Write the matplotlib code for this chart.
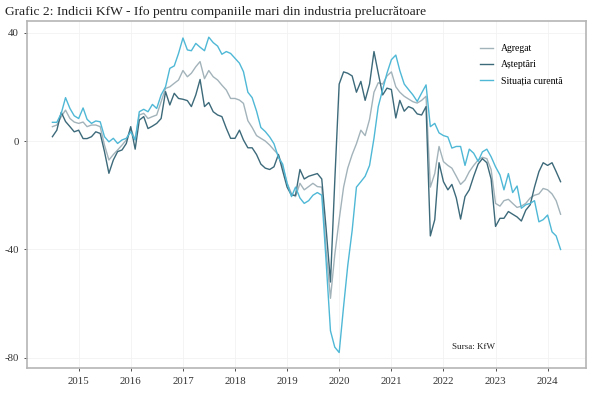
import matplotlib
matplotlib.use("Agg")
import matplotlib.pyplot as plt
import matplotlib.dates as mdates
import pandas as pd

# monthly values, Jul 2014 - Apr 2024
dates = pd.date_range("2014-07-01", periods=118, freq="MS")

agregat = [
    5.3, 5.9, 9, 11.4, 8.3, 7, 6.5, 7, 5.3, 5.9, 5.9, 5.3,
    -1.5, -7, -5, -3.3, -1.5, 0.4, 4.6, 0.4, 9.6, 10.2, 8.3, 9,
    9.6, 14.5, 19.4, 20, 21.3, 22.5, 26, 23.7, 25, 27.4, 29.3, 23,
    26, 23.7, 22.5, 20.6, 18.8, 15.7, 15.7, 15.1, 13.9, 7.5, 5, 2,
    1, 0, -1.5, -3.3, -5, -9.5, -15.6, -19.4, -20.5, -15.6, -18, -16.8,
    -15.6, -16.8, -17, -40, -58, -42, -29, -17, -10, -5, -1, 4,
    2, 8, 18, 21.5, 21, 24, 25.5, 20, 18, 16.5, 15.5, 14.5,
    14, 15, 16.5, -17, -12, -2, -7.6, -9, -10, -13, -16, -14.4,
    -11.3, -9, -7, -6, -6.5, -10.5, -23, -24, -22, -21.5, -23, -24.5,
    -24, -23, -21, -20, -19.5, -17.5, -18, -19.5, -22, -27,
]

asteptari = [
    1.6, 4, 10.6, 7.2, 5.3, 3.4, 4, 0.9, 0.9, 1.6, 3.4, 2.8,
    -3.9, -11.9, -7, -3.9, -3.3, -0.9, 5.3, -3, 7.7, 9, 4.6, 5.5,
    6.5, 8.3, 18.2, 13.3, 17.6, 15.7, 15.4, 14.9, 12.7, 17, 22.7, 12.7,
    14.2, 10.8, 9.6, 9, 4.7, 1, 1, 4, 0.4, -2.5, -2.5, -5,
    -8.5, -10, -10.5, -9.5, -5, -11, -17, -20, -20, -10.5, -14, -13,
    -12.5, -12, -14, -32, -52, -15, 21, 25.5, 25, 24, 18, 22,
    15, 21, 33, 25, 17, 19.5, 19, 8.5, 15, 11, 12.7, 12,
    10, 9.6, 12.7, -35, -29, -8, -15, -18, -16, -21, -28.8, -20.5,
    -18, -13, -8.5, -6.5, -8, -14, -31.5, -28.5, -28.5, -26, -27, -28,
    -29.5, -25.5, -23.5, -17, -11.3, -8, -9, -8, -11.3, -15,
]

situatia = [
    6.9, 6.9, 10.2, 16, 12, 9.3, 8.3, 12.2, 8, 6.5, 7.4, 7.1,
    1.6, -0.3, 1, -0.9, 0.4, 1, 3.4, 0.4, 10.8, 11.7, 10.8, 13.5,
    12, 17, 20, 26.8, 27.7, 32.3, 38, 33.6, 33.3, 36, 34.6, 33.3,
    38.3, 36.3, 35, 32, 33, 32.3, 30.5, 28.7, 25.6, 18, 16, 11,
    5, 3.5, 1.5, -1, -6, -8.5, -15.6, -20.5, -17, -21, -23, -22,
    -20, -19, -20, -44, -70, -76, -78, -61, -46, -33, -17, -15,
    -13, -9, 1, 12.7, 19, 25, 30, 31.7, 26, 21, 19, 17,
    14.6, 17.7, 20.7, 5.3, 6.5, 3, 2, 1.5, -2.6, -2, -2, -9,
    -3, -4.5, -7.5, -4, -3, -5.8, -9.5, -12.5, -18, -12, -19, -16.6,
    -24.8, -23.5, -23, -22, -29.8, -29, -27.3, -33.5, -35, -40,
]

labels = ["Agregat", "Așteptări", "Situația curentă"]
colors = ["#a3b3ba", "#3d6a7a", "#4fb8d6"]

plt.rcParams["font.family"] = ["Liberation Serif", "DejaVu Serif"]

fig = plt.figure(figsize=(6, 3.99), dpi=100)
ax = fig.add_axes([27 / 600, 1 - 368.3 / 399, (586 - 27) / 600, (368.3 - 21.4) / 399])

for vals, lab, col in zip([agregat, asteptari, situatia], labels, colors):
    ax.plot(dates, vals, color=col, lw=1.0, label=lab)

# ggplot style 5% expansion
x0, x1 = mdates.date2num(dates[0]), mdates.date2num(dates[-1])
pad = 0.05 * (x1 - x0)
ax.set_xlim(x0 - pad, x1 + pad)
lo = min(min(agregat), min(asteptari), min(situatia))
hi = max(max(agregat), max(asteptari), max(situatia))
ax.set_ylim(lo - 0.05 * (hi - lo), hi + 0.05 * (hi - lo))

ax.set_yticks([40, 0, -40, -80])
ax.set_yticklabels(["40", "0", "-40", "-80"])
ax.xaxis.set_major_locator(mdates.YearLocator())
ax.xaxis.set_major_formatter(mdates.DateFormatter("%Y"))

ax.grid(True, color="#f2f2f2", lw=0.6)
ax.set_axisbelow(True)
for s in ax.spines.values():
    s.set_color("#b5b5b5")
    s.set_linewidth(1.2)
ax.tick_params(colors="#333333", labelsize=7.8, length=2.5, width=0.6)
ax.tick_params(axis="x", pad=4)

ax.legend(loc="upper left", bbox_to_anchor=(0.795, 0.96), frameon=False,
          fontsize=7, handlelength=1.3, labelspacing=0.75)

ax.text(0.76, 0.055, "Sursa: KfW", transform=ax.transAxes, fontsize=6.5, color="#222222")

fig.text(5 / 600, 1 - 12 / 399, "Grafic 2: Indicii KfW - Ifo pentru companiile mari din industria prelucrătoare",
         fontsize=9.7, va="center", ha="left", color="#222222")

fig.savefig("out.png", dpi=100)
